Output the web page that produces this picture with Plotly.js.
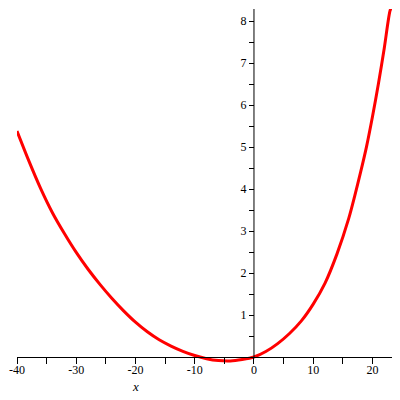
<!DOCTYPE html>
<html>
<head>
<meta charset="utf-8">
<script src="https://cdn.plot.ly/plotly-3.0.1.min.js"></script>
<style>
  html, body { margin: 0; padding: 0; background: #fff; }
  #plot { width: 400px; height: 400px; }
</style>
</head>
<body>
<div id="plot"></div>
<script>
// points
var xs = [-40, -38, -36, -34, -32, -30, -28, -26, -24, -22, -20, -18, -16, -14, -12, -10,
          -8, -6, -4, -2, 0, 2, 4, 6, 8, 10, 12, 14, 16, 17, 18, 19, 20, 21, 22, 23, 23.2];
var ys = [5.38, 4.67, 4.01, 3.43, 2.94, 2.49, 2.09, 1.73, 1.40, 1.10, 0.83, 0.60, 0.41, 0.26, 0.135, 0.035,
          -0.04, -0.085, -0.095, -0.06, 0, 0.13, 0.32, 0.56, 0.86, 1.26, 1.76, 2.45, 3.30, 3.83, 4.40, 5.01, 5.72, 6.50, 7.36, 8.26, 8.30];

var xTickVals = [-40, -30, -20, -10, 0, 10, 20];
var xTickText = ['-40', '-30', '-20', '-10', '0', '10', '20'];
var yTickVals = [1, 2, 3, 4, 5, 6, 7, 8];

var serif = '"Times New Roman", "Liberation Serif", "DejaVu Serif", serif';
var tickFont = { family: serif, size: 12, color: '#000' };

var trace = {
    type: 'scatter',
    mode: 'lines',
    x: xs,
    y: ys,
    line: { color: '#ff0000', width: 3, shape: 'spline', smoothing: 0.8 },
    hoverinfo: 'none'
};

var yTop = 8.286;

var layout = {
    width: 400,
    height: 400,
    margin: { l: 17, r: 8, t: 9, b: 35 },
    paper_bgcolor: '#fff',
    plot_bgcolor: '#fff',
    showlegend: false,
    xaxis: {
        range: [-40, 23.3],
        anchor: 'free',
        position: 8 / 356,
        showline: true,
        linecolor: '#000',
        linewidth: 1,
        showgrid: false,
        zeroline: false,
        ticks: 'outside',
        ticklen: 6,
        tickcolor: '#000',
        tickvals: xTickVals,
        ticktext: xTickText,
        tickfont: tickFont,
        ticklabelstandoff: -4,
        minor: { dtick: 5, tick0: 0, ticks: 'outside', ticklen: 6, tickcolor: '#000', showgrid: false }
    },
    yaxis: {
        range: [-0.19, yTop],
        anchor: 'free',
        position: 40 / 63.3,
        showline: false,
        showgrid: false,
        zeroline: false,
        ticks: 'outside',
        ticklen: 5,
        tickcolor: '#000',
        tickvals: yTickVals,
        tickfont: tickFont,
        minor: { dtick: 0.5, tick0: 0, ticks: 'outside', ticklen: 5, tickcolor: '#000', showgrid: false }
    },
    // vertical axis line from the x axis up to the top
    shapes: [{
        type: 'line', xref: 'x', yref: 'y',
        x0: 0, x1: 0, y0: 0, y1: yTop,
        line: { color: '#000', width: 1 }
    }],
    annotations: [{
        x: -20, xref: 'x',
        y: (365 - 386) / 356, yref: 'paper',
        xanchor: 'center', yanchor: 'middle',
        text: '<i>x</i>',
        showarrow: false,
        font: { family: serif, size: 13, color: '#000' }
    }]
};

Plotly.newPlot('plot', [trace], layout, { staticPlot: true });
</script>
</body>
</html>
